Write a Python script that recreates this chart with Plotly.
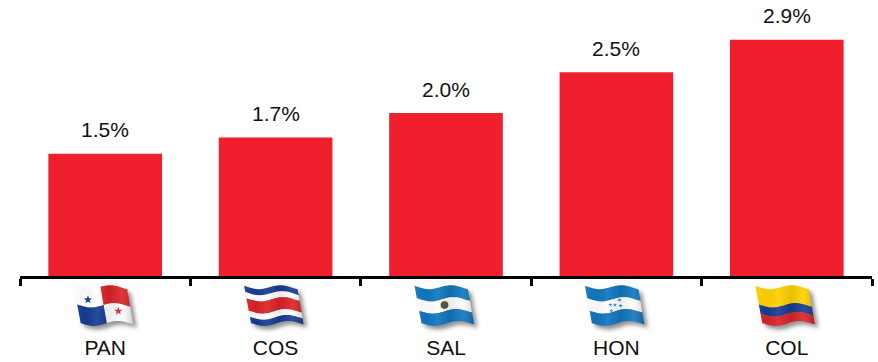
import base64
import math

import plotly.graph_objects as go

# Chart data
countries = ["PAN", "COS", "SAL", "HON", "COL"]
rates = [1.5, 1.7, 2.0, 2.5, 2.9]
value_labels = ["1.5%", "1.7%", "2.0%", "2.5%", "2.9%"]

BAR_RED = "#EF1F2D"

# Flag palette
BLUE_DARK = "#173C92"
BLUE_LIGHT = "#1076BE"
RED = "#DB2228"
WHITE = "#FFFFFF"
YELLOW = "#FDD000"

# Corners of the waving flag inside a 70x50 icon box
TL, TR, BR, BL = (3.5, 3.5), (57, 5), (63, 40), (10.5, 41)


def flag_point(u, v):
    """Map flag coordinates (u, v in 0..1) to icon coordinates, with the wave."""
    top = (TL[0] + (TR[0] - TL[0]) * u, TL[1] + (TR[1] - TL[1]) * u)
    bot = (BL[0] + (BR[0] - BL[0]) * u, BL[1] + (BR[1] - BL[1]) * u)
    x = top[0] + (bot[0] - top[0]) * v
    y = top[1] + (bot[1] - top[1]) * v
    return x, y + 2.3 * math.sin(2 * math.pi * (u * 1.15 - 0.05))


def patch(u0, u1, v0, v1, fill):
    n = 24
    pts = [flag_point(u0 + (u1 - u0) * i / n, v0) for i in range(n + 1)]
    pts += [flag_point(u1 - (u1 - u0) * i / n, v1) for i in range(n + 1)]
    coords = " ".join(f"{x:.2f},{y:.2f}" for x, y in pts)
    return f'<polygon points="{coords}" fill="{fill}"/>'


def star(u, v, r, fill):
    cx, cy = flag_point(u, v)
    pts = []
    for k in range(10):
        rad = r if k % 2 == 0 else r * 0.4
        a = -math.pi / 2 + k * math.pi / 5
        pts.append(f"{cx + rad * math.cos(a):.2f},{cy + rad * math.sin(a):.2f}")
    return f'<polygon points="{" ".join(pts)}" fill="{fill}"/>'


def stripes(bands):
    out, v = [], 0.0
    for share, colour in bands:
        out.append(patch(0, 1, v, v + share, colour))
        v += share
    return "".join(out)


def flag_body(code):
    if code == "PAN":
        return (
            patch(0, 0.5, 0, 0.5, WHITE) + patch(0.5, 1, 0, 0.5, RED)
            + patch(0, 0.5, 0.5, 1, BLUE_DARK) + patch(0.5, 1, 0.5, 1, WHITE)
            + star(0.23, 0.29, 4.4, BLUE_DARK) + star(0.75, 0.72, 4.4, RED)
        )
    if code == "COS":
        return stripes([(1 / 6, BLUE_DARK), (1 / 6, WHITE), (2 / 6, RED),
                        (1 / 6, WHITE), (1 / 6, BLUE_DARK)])
    if code == "SAL":
        cx, cy = flag_point(0.5, 0.5)
        return (
            stripes([(1 / 3, BLUE_LIGHT), (1 / 3, WHITE), (1 / 3, BLUE_LIGHT)])
            + f'<circle cx="{cx:.2f}" cy="{cy:.2f}" r="4.6" fill="#F7E64A"/>'
            + f'<circle cx="{cx:.2f}" cy="{cy:.2f}" r="3.7" fill="#46505A"/>'
        )
    if code == "HON":
        body = stripes([(1 / 3, BLUE_LIGHT), (1 / 3, WHITE), (1 / 3, BLUE_LIGHT)])
        for u, v in [(0.42, 0.46), (0.6, 0.40), (0.5, 0.5), (0.42, 0.62), (0.6, 0.56)]:
            body += star(u, v, 2.1, "#1E86CC")
        return body
    return stripes([(0.5, YELLOW), (0.25, BLUE_DARK), (0.25, RED)])


def flag_uri(code):
    n = 30
    outline = [flag_point(i / n, 0) for i in range(n + 1)]
    outline += [flag_point(1 - i / n, 1) for i in range(n + 1)]
    coords = " ".join(f"{x:.2f},{y:.2f}" for x, y in outline)
    # Light and dark folds running across the cloth
    folds = "".join(
        f'<stop offset="{o}" stop-color="{c}" stop-opacity="{a}"/>'
        for o, c, a in [(0, "#fff", 0.08), (0.18, "#000", 0.03), (0.38, "#fff", 0.08),
                        (0.6, "#000", 0.08), (0.8, "#fff", 0.08), (1, "#000", 0.2)]
    )
    svg = (
        '<svg xmlns="http://www.w3.org/2000/svg" width="280" height="200" viewBox="0 0 70 50">'
        '<defs>'
        '<filter id="s" x="-20%" y="-20%" width="140%" height="140%">'
        '<feGaussianBlur stdDeviation="2"/></filter>'
        f'<linearGradient id="g" x1="0" y1="0" x2="1" y2="0">{folds}</linearGradient>'
        '</defs>'
        f'<polygon points="{coords}" fill="#555" opacity="0.65" filter="url(#s)" '
        'transform="translate(3.5,3.5)"/>'
        f'{flag_body(code)}'
        f'<polygon points="{coords}" fill="url(#g)"/>'
        '</svg>'
    )
    return "data:image/svg+xml;base64," + base64.b64encode(svg.encode()).decode()


WIDTH, HEIGHT = 878, 362
LEFT, RIGHT, BOTTOM = 19.75, 5.75, 85.5
plot_w = WIDTH - LEFT - RIGHT
plot_h = HEIGHT - BOTTOM

fig = go.Figure(
    go.Bar(x=countries, y=rates, marker=dict(color=BAR_RED, line=dict(width=0)), hoverinfo="skip")
)

for name, rate, label in zip(countries, rates, value_labels):
    fig.add_annotation(
        x=name, y=rate, text=label, showarrow=False,
        yanchor="middle", yshift=24,
        font=dict(family="Liberation Sans", size=21, color="#111111"),
    )

# Flag icons sit between the axis and the category names
for i, name in enumerate(countries):
    fig.add_layout_image(
        source=flag_uri(name), xref="paper", yref="paper",
        x=(i + 0.5) / len(countries), y=-7 / plot_h,
        sizex=70 / plot_w, sizey=50 / plot_h,
        xanchor="center", yanchor="top", sizing="stretch", layer="above",
    )

fig.update_layout(
    width=WIDTH, height=HEIGHT,
    margin=dict(l=LEFT, r=RIGHT, t=0, b=BOTTOM, pad=0),
    paper_bgcolor="white", plot_bgcolor="white",
    bargap=0.333, showlegend=False,
    font=dict(family="Liberation Sans", size=21, color="#111111"),
)
fig.update_xaxes(
    type="category", categoryorder="array", categoryarray=countries,
    showline=True, linecolor="#000000", linewidth=2.5,
    ticks="outside", tickson="boundaries", ticklen=7, tickwidth=2.5, tickcolor="#000000",
    ticklabelstandoff=51, showgrid=False, zeroline=False,
    tickfont=dict(family="Liberation Sans", size=21, color="#111111"),
)
fig.update_yaxes(visible=False, range=[0, 3.388], showgrid=False, zeroline=False)

fig.write_html("out.html", config=dict(displayModeBar=False))
